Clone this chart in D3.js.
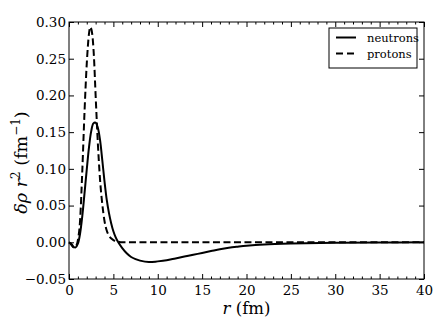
<!DOCTYPE html>
<html>
<head>
<meta charset="utf-8">
<script src="https://cdnjs.cloudflare.com/ajax/libs/d3/7.8.5/d3.min.js"></script>
<style>
  body { margin: 0; background: #fff; }
  text { fill: #000; }
</style>
</head>
<body>
<div id="chart"></div>
<script>
// radius (fm) and delta rho r^2 values
const r_neutrons = [0, 0.25, 0.5, 0.75, 1.0, 1.25, 1.5, 1.75, 2.0, 2.25, 2.5, 2.75, 3.0, 3.25, 3.5, 3.75, 4.0, 4.25, 4.5, 4.75, 5.0, 5.25, 5.5, 6.0, 6.5, 7.0, 7.5, 8.0, 9.0, 10, 11, 12, 13, 14, 15, 16, 17, 18, 19, 20, 22, 25, 30, 35, 40];
const neutrons   = [0, -0.002, -0.006, -0.007, -0.002, 0.012, 0.036, 0.067, 0.099, 0.129, 0.151, 0.162, 0.163, 0.156, 0.139, 0.112, 0.083, 0.058, 0.040, 0.026, 0.015, 0.007, 0.001, -0.008, -0.015, -0.020, -0.023, -0.025, -0.027, -0.026, -0.0245, -0.022, -0.0195, -0.017, -0.0145, -0.012, -0.0095, -0.0075, -0.006, -0.0047, -0.003, -0.0018, -0.0008, -0.0003, 0];

const r_protons = [0, 0.25, 0.5, 0.75, 1.0, 1.25, 1.5, 1.75, 2.0, 2.25, 2.4, 2.6, 2.8, 3.0, 3.25, 3.5, 3.75, 4.0, 4.25, 4.5, 5.0, 5.5, 6.0, 10, 20, 30, 40];
const protons   = [0, -0.003, -0.007, -0.006, 0.003, 0.030, 0.098, 0.178, 0.243, 0.284, 0.293, 0.285, 0.255, 0.200, 0.135, 0.085, 0.052, 0.029, 0.016, 0.009, 0.003, 0.001, 0, 0, 0, 0, 0];

const x_ticks = [0, 5, 10, 15, 20, 25, 30, 35, 40];
const y_ticks = [-0.05, 0.00, 0.05, 0.10, 0.15, 0.20, 0.25, 0.30];
const series_names = ["neutrons", "protons"];

const FONT = "DejaVu Serif";

const margin = {top: 22, right: 12, bottom: 46, left: 69},
      width = 436 - margin.left - margin.right,
      height = 325 - margin.top - margin.bottom;

const root = d3.select("#chart")
    .append("svg")
    .attr("width", 436)
    .attr("height", 325)
    .attr("font-family", FONT);

const svg = root.append("g")
    .attr("transform", `translate(${margin.left}, ${margin.top})`);

const x = d3.scaleLinear().domain([0, 40]).range([0, width]);
const y = d3.scaleLinear().domain([-0.05, 0.30]).range([height, 0]);

const minor_x = d3.range(0, 41, 1).filter(v => v % 5 !== 0);

function style_axis(g) {
    g.attr("font-family", FONT).attr("font-size", 13.5);
    g.select(".domain").remove();
    g.selectAll("line").attr("stroke", "#000").attr("stroke-width", 1);
    g.selectAll("text").attr("fill", "#000");
}

// bottom / top axes, ticks pointing in
svg.append("g")
    .attr("transform", `translate(0, ${height})`)
    .call(d3.axisBottom(x).tickValues(x_ticks).tickSize(-5).tickPadding(6).tickFormat(d3.format("d")))
    .call(style_axis);
svg.append("g")
    .attr("transform", `translate(0, ${height})`)
    .call(d3.axisBottom(x).tickValues(minor_x).tickSize(-2.5).tickFormat(""))
    .call(style_axis);
svg.append("g")
    .call(d3.axisTop(x).tickValues(x_ticks).tickSize(-5).tickFormat(""))
    .call(style_axis);
svg.append("g")
    .call(d3.axisTop(x).tickValues(minor_x).tickSize(-2.5).tickFormat(""))
    .call(style_axis);

// left / right axes
svg.append("g")
    .call(d3.axisLeft(y).tickValues(y_ticks).tickSize(-5).tickPadding(3).tickFormat(d3.format(".2f")))
    .call(style_axis);
svg.append("g")
    .attr("transform", `translate(${width}, 0)`)
    .call(d3.axisRight(y).tickValues(y_ticks).tickSize(-5).tickFormat(""))
    .call(style_axis);

// draw data
const line = d3.line()
    .x(d => x(d[0]))
    .y(d => y(d[1]))
    .curve(d3.curveCatmullRom.alpha(0.5));

svg.append("path")
    .datum(d3.zip(r_neutrons, neutrons))
    .attr("fill", "none")
    .attr("stroke", "#000")
    .attr("stroke-width", 2)
    .attr("d", line);

svg.append("path")
    .datum(d3.zip(r_protons, protons))
    .attr("fill", "none")
    .attr("stroke", "#000")
    .attr("stroke-width", 2)
    .attr("stroke-dasharray", "7,3.5")
    .attr("d", line.curve(d3.curveMonotoneX));

// frame
svg.append("rect")
    .attr("width", width)
    .attr("height", height)
    .attr("fill", "none")
    .attr("stroke", "#000")
    .attr("stroke-width", 1);

// legend
const lg = svg.append("g").attr("transform", `translate(${260}, ${6})`);
lg.append("rect")
    .attr("width", 88).attr("height", 40)
    .attr("fill", "#fff").attr("stroke", "#000").attr("stroke-width", 1);
series_names.forEach((name, i) => {
    const yy = 9.5 + i * 16;
    lg.append("line")
        .attr("x1", 7).attr("x2", 27)
        .attr("y1", yy).attr("y2", yy)
        .attr("stroke", "#000").attr("stroke-width", 2)
        .attr("stroke-dasharray", i === 1 ? "7,4" : null);
    lg.append("text")
        .attr("x", 38).attr("y", yy + 4)
        .attr("font-size", 11.5)
        .attr("fill", "#000")
        .text(name);
});

// axis labels
const xl = svg.append("text")
    .attr("x", width / 2)
    .attr("y", height + 35)
    .attr("text-anchor", "middle")
    .attr("fill", "#000")
    .attr("font-size", 16.5);
xl.append("tspan").attr("font-style", "italic").text("r");
xl.append("tspan").text(" (fm)");

const yl = svg.append("text")
    .attr("transform", `translate(${-42}, ${height / 2 + 12}) rotate(-90)`)
    .attr("text-anchor", "middle")
    .attr("fill", "#000")
    .attr("font-size", 17.5);
yl.append("tspan").attr("font-style", "italic").text("δρ r");
yl.append("tspan").attr("dy", -7).attr("font-size", 12).text("2");
yl.append("tspan").attr("dy", 7).text(" (fm");
yl.append("tspan").attr("dy", -7).attr("font-size", 12).text("−1");
yl.append("tspan").attr("dy", 7).text(")");
</script>
</body>
</html>
